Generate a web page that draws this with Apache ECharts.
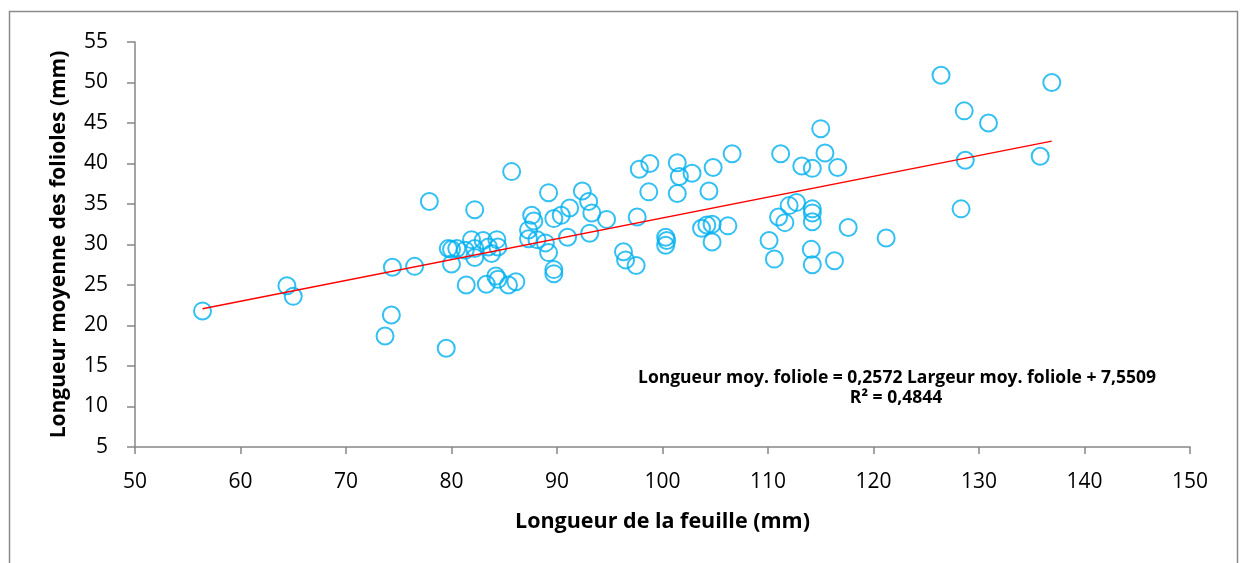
<!DOCTYPE html>
<html>
<head>
<meta charset="utf-8">
<script src="https://cdn.jsdelivr.net/npm/echarts@6/dist/echarts.min.js"></script>
<style>
html,body{margin:0;padding:0;background:#fff;}
#chart{width:1247px;height:563px;}
</style>
</head>
<body>
<div id="chart"></div>
<script>
// Leaf length (mm)
const leafLength = [
  56.4, 64.4, 65.0, 73.7, 74.3, 74.4, 76.5, 77.9, 79.5, 79.7,
  80.0, 80.5, 80.0, 81.3, 81.4, 81.9, 82.2, 82.2, 82.2, 83.0,
  83.5, 83.8, 84.3, 84.4, 83.3, 84.2, 84.4, 85.4, 86.1, 85.7,
  87.3, 87.3, 87.6, 87.8, 88.1, 88.9, 89.2, 89.2, 89.7, 89.7,
  89.7, 90.4, 91.2, 91.0, 92.4, 93.0, 93.3, 93.1, 94.7, 96.3,
  96.5, 97.5, 97.6, 97.8, 98.8, 98.7, 100.3, 100.4, 100.3, 101.4,
  101.6, 102.8, 101.4, 104.8, 104.4, 106.6, 103.7, 104.2, 104.7, 106.2,
  104.7, 111.2, 115.0, 115.4, 113.2, 114.2, 116.6, 112.0, 112.7, 114.2,
  114.2, 114.2, 111.0, 111.6, 110.1, 110.6, 114.1, 114.2, 116.3, 117.6,
  121.2, 126.4, 128.6, 130.9, 128.7, 135.8, 128.3, 136.9
];
// Mean leaflet length (mm)
const leafletLength = [
  21.8, 24.9, 23.6, 18.7, 21.3, 27.2, 27.3, 35.3, 17.2, 29.5,
  29.4, 29.5, 27.6, 29.3, 25.0, 30.6, 29.5, 28.4, 34.3, 30.5,
  29.7, 28.9, 30.6, 29.7, 25.1, 26.1, 25.7, 25.0, 25.4, 39.0,
  31.8, 30.7, 33.6, 32.9, 30.6, 30.2, 36.4, 29.0, 26.9, 26.4,
  33.2, 33.6, 34.5, 30.9, 36.6, 35.3, 33.9, 31.4, 33.1, 29.1,
  28.1, 27.4, 33.4, 39.3, 40.0, 36.5, 30.9, 30.5, 29.9, 40.1,
  38.4, 38.8, 36.3, 39.5, 36.6, 41.2, 32.0, 32.4, 32.5, 32.3,
  30.3, 41.2, 44.3, 41.3, 39.7, 39.4, 39.5, 34.8, 35.2, 34.4,
  33.9, 32.8, 33.4, 32.7, 30.5, 28.2, 29.4, 27.5, 28.0, 32.1,
  30.8, 50.9, 46.5, 45.0, 40.4, 40.9, 34.4, 50.0
];
const xTicks = [50, 60, 70, 80, 90, 100, 110, 120, 130, 140, 150];
const yTicks = [5, 10, 15, 20, 25, 30, 35, 40, 45, 50, 55];
const trendSlope = 0.2572;
const trendIntercept = 7.5509;
const equationText = 'Longueur moy. foliole = 0,2572 Largeur moy. foliole + 7,5509';
const r2Text = 'R² = 0,4844';
const xTitle = 'Longueur de la feuille (mm)';
const yTitle = 'Longueur moyenne des folioles (mm)';

const points = leafLength.map((x, i) => [x, leafletLength[i]]);
const xMin = Math.min(...leafLength), xMax = Math.max(...leafLength);
const trend = [[xMin, trendSlope * xMin + trendIntercept], [xMax, trendSlope * xMax + trendIntercept]];

const FONT = '"Open Sans", "Liberation Sans", sans-serif';
const chart = echarts.init(document.getElementById('chart'), null, {renderer: 'canvas'});
chart.setOption({
  animation: false,
  backgroundColor: '#ffffff',
  grid: {left: 135, right: 57, top: 42, bottom: 116},
  xAxis: {
    type: 'value', min: xTicks[0], max: xTicks[xTicks.length - 1], interval: 10,
    name: xTitle, nameLocation: 'middle', nameGap: 64,
    nameTextStyle: {fontFamily: FONT, fontWeight: 'bold', fontSize: 21.5, color: '#000'},
    axisLine: {show: true, onZero: false, lineStyle: {color: '#868686', width: 1.5}},
    axisTick: {show: true, inside: false, length: 7, lineStyle: {color: '#868686', width: 1.5}},
    axisLabel: {fontFamily: FONT, fontSize: 21, color: '#000', margin: 25},
    splitLine: {show: false}
  },
  yAxis: {
    type: 'value', min: yTicks[0], max: yTicks[yTicks.length - 1], interval: 5,
    name: yTitle, nameLocation: 'middle', nameGap: 65, nameRotate: 90,
    nameTextStyle: {fontFamily: FONT, fontWeight: 'bold', fontSize: 21, color: '#000'},
    axisLine: {show: true, onZero: false, lineStyle: {color: '#868686', width: 1.5}},
    axisTick: {show: true, inside: false, length: 8, lineStyle: {color: '#868686', width: 1.5}},
    axisLabel: {fontFamily: FONT, fontSize: 21, color: '#000', margin: 27},
    splitLine: {show: false}
  },
  series: [
    {
      type: 'scatter', data: points, symbol: 'circle', symbolSize: 17,
      itemStyle: {color: 'rgba(0,0,0,0)', borderColor: '#00B0F0', borderWidth: 2}
    },
    {
      type: 'line', data: trend, symbol: 'none',
      lineStyle: {color: '#FF0000', width: 1.5}
    }
  ],
  graphic: [
    {type: 'rect', shape: {x: 9.5, y: 11.5, width: 1228, height: 600}, style: {fill: 'none', stroke: '#8a8a8a', lineWidth: 1.5}, silent: true},
    {type: 'text', x: 897, y: 378, style: {text: equationText, font: 'bold 17.5px ' + FONT, fill: '#000', textAlign: 'center', textVerticalAlign: 'middle'}},
    {type: 'text', x: 896, y: 398, style: {text: r2Text, font: 'bold 17.5px ' + FONT, fill: '#000', textAlign: 'center', textVerticalAlign: 'middle'}}
  ]
});
</script>
</body>
</html>
